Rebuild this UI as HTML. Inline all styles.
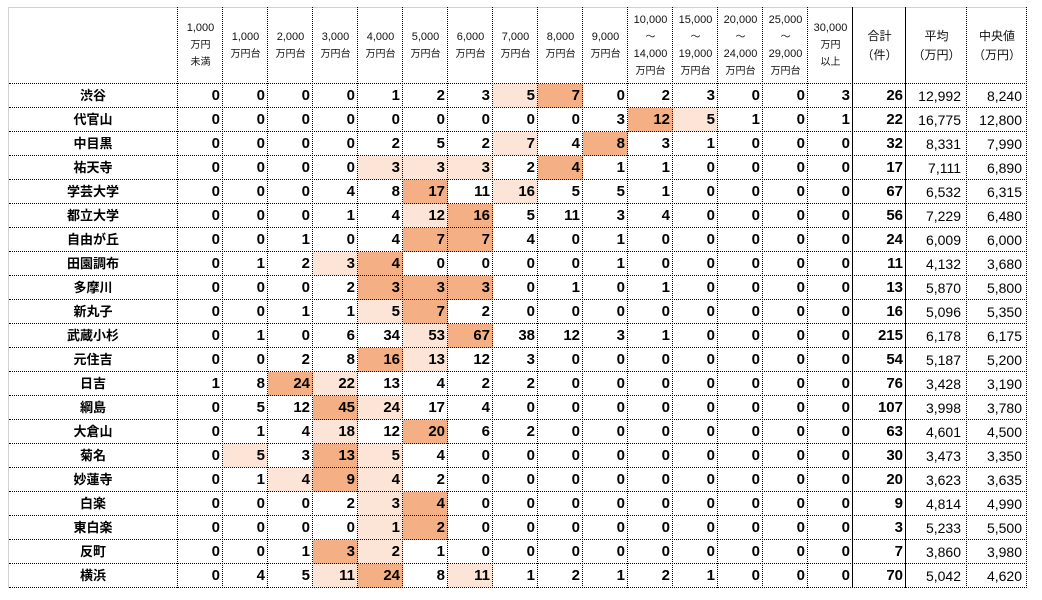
<!DOCTYPE html>
<html><head><meta charset="utf-8">
<style>
body{margin:0;width:1042px;height:600px;background:#fff;overflow:hidden;position:relative}
table{position:absolute;left:8px;top:7px;border-collapse:collapse;border-spacing:0;table-layout:fixed;width:1019px}
td,th{padding:0;margin:0;border:0}
th{height:77px;vertical-align:middle;text-align:center;font-weight:normal;color:#111}
th div{white-space:nowrap}
th .n{font:11px/17px "Liberation Sans",sans-serif}
th .j{font:10px/17px "Liberation Sans","Noto Sans CJK JP",sans-serif}
th .k{font:12px/19px "Liberation Sans","Noto Sans CJK JP",sans-serif}
td{height:24px;text-align:right;padding-right:3px;font:bold 15px/24px "Liberation Sans",sans-serif;white-space:nowrap;overflow:hidden;color:#000}
td.nm{text-align:center;padding:0;font:bold 13px/24px "Liberation Sans","Noto Sans CJK JP",sans-serif}
td.a{font-weight:normal;font-size:14px;padding-right:6px}
td.m{font-weight:normal;font-size:14px;padding-right:5px}
.l{background:#FCE4D6}.d{background:#F4B084}
.v{position:absolute;top:7px;height:581px;width:0;border-left:1px dotted #000}
.vs{position:absolute;top:7px;height:581px;width:1px;background:#000}
.h{position:absolute;left:9px;width:1018px;height:0;border-top:1px dotted #000}
.g1{position:absolute;left:8px;top:7px;width:1019px;height:1px;background:#d0d0d0}
.g2{position:absolute;left:8px;top:7px;width:1px;height:581px;background:#d0d0d0}
</style></head><body>
<table>
<colgroup><col style="width:170px"><col style="width:45px"><col style="width:45px"><col style="width:45px"><col style="width:45px"><col style="width:45px"><col style="width:45px"><col style="width:45px"><col style="width:45px"><col style="width:45px"><col style="width:45px"><col style="width:45px"><col style="width:45px"><col style="width:45px"><col style="width:45px"><col style="width:45px"><col style="width:53px"><col style="width:61px"><col style="width:60px"></colgroup>
<tr>
<th></th>
<th><div class="n">1,000</div><div class="j">万円</div><div class="j">未満</div></th>
<th><div class="n">1,000</div><div class="j">万円台</div></th>
<th><div class="n">2,000</div><div class="j">万円台</div></th>
<th><div class="n">3,000</div><div class="j">万円台</div></th>
<th><div class="n">4,000</div><div class="j">万円台</div></th>
<th><div class="n">5,000</div><div class="j">万円台</div></th>
<th><div class="n">6,000</div><div class="j">万円台</div></th>
<th><div class="n">7,000</div><div class="j">万円台</div></th>
<th><div class="n">8,000</div><div class="j">万円台</div></th>
<th><div class="n">9,000</div><div class="j">万円台</div></th>
<th><div class="n">10,000</div><div class="j">～</div><div class="n">14,000</div><div class="j">万円台</div></th>
<th><div class="n">15,000</div><div class="j">～</div><div class="n">19,000</div><div class="j">万円台</div></th>
<th><div class="n">20,000</div><div class="j">～</div><div class="n">24,000</div><div class="j">万円台</div></th>
<th><div class="n">25,000</div><div class="j">～</div><div class="n">29,000</div><div class="j">万円台</div></th>
<th><div class="n">30,000</div><div class="j">万円</div><div class="j">以上</div></th>
<th><div class="k">合計</div><div class="k">（件）</div></th>
<th><div class="k">平均</div><div class="k">（万円）</div></th>
<th><div class="k">中央値</div><div class="k">（万円）</div></th>
</tr>
<tr><td class="nm">渋谷</td><td>0</td><td>0</td><td>0</td><td>0</td><td>1</td><td>2</td><td>3</td><td class="l">5</td><td class="d">7</td><td>0</td><td>2</td><td>3</td><td>0</td><td>0</td><td>3</td><td>26</td><td class="a">12,992</td><td class="m">8,240</td></tr>
<tr><td class="nm">代官山</td><td>0</td><td>0</td><td>0</td><td>0</td><td>0</td><td>0</td><td>0</td><td>0</td><td>0</td><td>3</td><td class="d">12</td><td class="l">5</td><td>1</td><td>0</td><td>1</td><td>22</td><td class="a">16,775</td><td class="m">12,800</td></tr>
<tr><td class="nm">中目黒</td><td>0</td><td>0</td><td>0</td><td>0</td><td>2</td><td>5</td><td>2</td><td class="l">7</td><td>4</td><td class="d">8</td><td>3</td><td>1</td><td>0</td><td>0</td><td>0</td><td>32</td><td class="a">8,331</td><td class="m">7,990</td></tr>
<tr><td class="nm">祐天寺</td><td>0</td><td>0</td><td>0</td><td>0</td><td class="l">3</td><td class="l">3</td><td class="l">3</td><td>2</td><td class="d">4</td><td>1</td><td>1</td><td>0</td><td>0</td><td>0</td><td>0</td><td>17</td><td class="a">7,111</td><td class="m">6,890</td></tr>
<tr><td class="nm">学芸大学</td><td>0</td><td>0</td><td>0</td><td>4</td><td>8</td><td class="d">17</td><td>11</td><td class="l">16</td><td>5</td><td>5</td><td>1</td><td>0</td><td>0</td><td>0</td><td>0</td><td>67</td><td class="a">6,532</td><td class="m">6,315</td></tr>
<tr><td class="nm">都立大学</td><td>0</td><td>0</td><td>0</td><td>1</td><td>4</td><td class="l">12</td><td class="d">16</td><td>5</td><td>11</td><td>3</td><td>4</td><td>0</td><td>0</td><td>0</td><td>0</td><td>56</td><td class="a">7,229</td><td class="m">6,480</td></tr>
<tr><td class="nm">自由が丘</td><td>0</td><td>0</td><td>1</td><td>0</td><td>4</td><td class="d">7</td><td class="d">7</td><td>4</td><td>0</td><td>1</td><td>0</td><td>0</td><td>0</td><td>0</td><td>0</td><td>24</td><td class="a">6,009</td><td class="m">6,000</td></tr>
<tr><td class="nm">田園調布</td><td>0</td><td>1</td><td>2</td><td class="l">3</td><td class="d">4</td><td>0</td><td>0</td><td>0</td><td>0</td><td>1</td><td>0</td><td>0</td><td>0</td><td>0</td><td>0</td><td>11</td><td class="a">4,132</td><td class="m">3,680</td></tr>
<tr><td class="nm">多摩川</td><td>0</td><td>0</td><td>0</td><td>2</td><td class="d">3</td><td class="d">3</td><td class="d">3</td><td>0</td><td>1</td><td>0</td><td>1</td><td>0</td><td>0</td><td>0</td><td>0</td><td>13</td><td class="a">5,870</td><td class="m">5,800</td></tr>
<tr><td class="nm">新丸子</td><td>0</td><td>0</td><td>1</td><td>1</td><td class="l">5</td><td class="d">7</td><td>2</td><td>0</td><td>0</td><td>0</td><td>0</td><td>0</td><td>0</td><td>0</td><td>0</td><td>16</td><td class="a">5,096</td><td class="m">5,350</td></tr>
<tr><td class="nm">武蔵小杉</td><td>0</td><td>1</td><td>0</td><td>6</td><td>34</td><td class="l">53</td><td class="d">67</td><td>38</td><td>12</td><td>3</td><td>1</td><td>0</td><td>0</td><td>0</td><td>0</td><td>215</td><td class="a">6,178</td><td class="m">6,175</td></tr>
<tr><td class="nm">元住吉</td><td>0</td><td>0</td><td>2</td><td>8</td><td class="d">16</td><td class="l">13</td><td>12</td><td>3</td><td>0</td><td>0</td><td>0</td><td>0</td><td>0</td><td>0</td><td>0</td><td>54</td><td class="a">5,187</td><td class="m">5,200</td></tr>
<tr><td class="nm">日吉</td><td>1</td><td>8</td><td class="d">24</td><td class="l">22</td><td>13</td><td>4</td><td>2</td><td>2</td><td>0</td><td>0</td><td>0</td><td>0</td><td>0</td><td>0</td><td>0</td><td>76</td><td class="a">3,428</td><td class="m">3,190</td></tr>
<tr><td class="nm">綱島</td><td>0</td><td>5</td><td>12</td><td class="d">45</td><td class="l">24</td><td>17</td><td>4</td><td>0</td><td>0</td><td>0</td><td>0</td><td>0</td><td>0</td><td>0</td><td>0</td><td>107</td><td class="a">3,998</td><td class="m">3,780</td></tr>
<tr><td class="nm">大倉山</td><td>0</td><td>1</td><td>4</td><td class="l">18</td><td>12</td><td class="d">20</td><td>6</td><td>2</td><td>0</td><td>0</td><td>0</td><td>0</td><td>0</td><td>0</td><td>0</td><td>63</td><td class="a">4,601</td><td class="m">4,500</td></tr>
<tr><td class="nm">菊名</td><td>0</td><td class="l">5</td><td>3</td><td class="d">13</td><td class="l">5</td><td>4</td><td>0</td><td>0</td><td>0</td><td>0</td><td>0</td><td>0</td><td>0</td><td>0</td><td>0</td><td>30</td><td class="a">3,473</td><td class="m">3,350</td></tr>
<tr><td class="nm">妙蓮寺</td><td>0</td><td>1</td><td class="l">4</td><td class="d">9</td><td class="l">4</td><td>2</td><td>0</td><td>0</td><td>0</td><td>0</td><td>0</td><td>0</td><td>0</td><td>0</td><td>0</td><td>20</td><td class="a">3,623</td><td class="m">3,635</td></tr>
<tr><td class="nm">白楽</td><td>0</td><td>0</td><td>0</td><td>2</td><td class="l">3</td><td class="d">4</td><td>0</td><td>0</td><td>0</td><td>0</td><td>0</td><td>0</td><td>0</td><td>0</td><td>0</td><td>9</td><td class="a">4,814</td><td class="m">4,990</td></tr>
<tr><td class="nm">東白楽</td><td>0</td><td>0</td><td>0</td><td>0</td><td class="l">1</td><td class="d">2</td><td>0</td><td>0</td><td>0</td><td>0</td><td>0</td><td>0</td><td>0</td><td>0</td><td>0</td><td>3</td><td class="a">5,233</td><td class="m">5,500</td></tr>
<tr><td class="nm">反町</td><td>0</td><td>0</td><td>1</td><td class="d">3</td><td class="l">2</td><td>1</td><td>0</td><td>0</td><td>0</td><td>0</td><td>0</td><td>0</td><td>0</td><td>0</td><td>0</td><td>7</td><td class="a">3,860</td><td class="m">3,980</td></tr>
<tr><td class="nm">横浜</td><td>0</td><td>4</td><td>5</td><td class="l">11</td><td class="d">24</td><td>8</td><td class="l">11</td><td>1</td><td>2</td><td>1</td><td>2</td><td>1</td><td>0</td><td>0</td><td>0</td><td>70</td><td class="a">5,042</td><td class="m">4,620</td></tr>
</table>

<div class="g1"></div><div class="g2"></div>

<div class="v" style="left:177px"></div>
<div class="v" style="left:222px"></div>
<div class="v" style="left:267px"></div>
<div class="v" style="left:312px"></div>
<div class="v" style="left:357px"></div>
<div class="v" style="left:402px"></div>
<div class="v" style="left:447px"></div>
<div class="v" style="left:492px"></div>
<div class="v" style="left:537px"></div>
<div class="v" style="left:582px"></div>
<div class="v" style="left:627px"></div>
<div class="v" style="left:672px"></div>
<div class="v" style="left:717px"></div>
<div class="v" style="left:762px"></div>
<div class="v" style="left:807px"></div>
<div class="vs" style="left:852px"></div>
<div class="vs" style="left:905px"></div>
<div class="v" style="left:966px"></div>
<div class="v" style="left:1026px"></div>

<div class="h" style="top:83px"></div>
<div class="h" style="top:107px"></div>
<div class="h" style="top:131px"></div>
<div class="h" style="top:155px"></div>
<div class="h" style="top:179px"></div>
<div class="h" style="top:203px"></div>
<div class="h" style="top:227px"></div>
<div class="h" style="top:251px"></div>
<div class="h" style="top:275px"></div>
<div class="h" style="top:299px"></div>
<div class="h" style="top:323px"></div>
<div class="h" style="top:347px"></div>
<div class="h" style="top:371px"></div>
<div class="h" style="top:395px"></div>
<div class="h" style="top:419px"></div>
<div class="h" style="top:443px"></div>
<div class="h" style="top:467px"></div>
<div class="h" style="top:491px"></div>
<div class="h" style="top:515px"></div>
<div class="h" style="top:539px"></div>
<div class="h" style="top:563px"></div>
<div class="h" style="top:587px"></div>
</body></html>
